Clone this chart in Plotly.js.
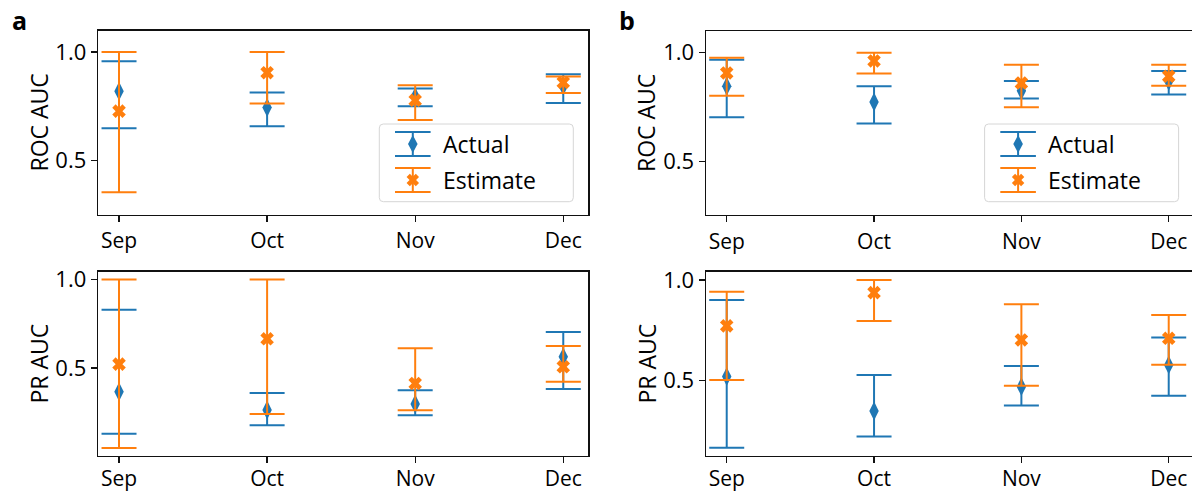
<!DOCTYPE html>
<html><head><meta charset="utf-8">
<script src="https://cdn.plot.ly/plotly-3.0.1.min.js"></script>
<style>html,body{margin:0;padding:0;background:#fff}#chart{width:1192px;height:492px}</style>
</head><body><div id="chart"></div>
<script>
const months = ["Sep", "Oct", "Nov", "Dec"];
const seriesNames = ["Actual", "Estimate"];
// Panel a - ROC AUC
const aRocActual   = [0.820, 0.745, 0.794, 0.843];
const aRocActualLo = [0.649, 0.659, 0.750, 0.766];
const aRocActualHi = [0.957, 0.814, 0.832, 0.898];
const aRocEst      = [0.728, 0.905, 0.778, 0.860];
const aRocEstLo    = [0.355, 0.763, 0.687, 0.812];
const aRocEstHi    = [1.000, 1.000, 0.847, 0.887];
// Panel a - PR AUC
const aPrActual    = [0.366, 0.263, 0.297, 0.563];
const aPrActualLo  = [0.129, 0.177, 0.233, 0.381];
const aPrActualHi  = [0.829, 0.359, 0.374, 0.704];
const aPrEst       = [0.522, 0.665, 0.413, 0.507];
const aPrEstLo     = [0.049, 0.240, 0.261, 0.422];
const aPrEstHi     = [1.000, 1.000, 0.611, 0.624];
// Panel b - ROC AUC
const bRocActual   = [0.846, 0.774, 0.825, 0.869];
const bRocActualLo = [0.704, 0.675, 0.790, 0.808];
const bRocActualHi = [0.968, 0.846, 0.870, 0.916];
const bRocEst      = [0.907, 0.962, 0.861, 0.892];
const bRocEstLo    = [0.802, 0.904, 0.750, 0.848];
const bRocEstHi    = [0.977, 1.000, 0.945, 0.945];
// Panel b - PR AUC
const bPrActual    = [0.520, 0.349, 0.470, 0.578];
const bPrActualLo  = [0.166, 0.222, 0.376, 0.425];
const bPrActualHi  = [0.901, 0.528, 0.573, 0.714];
const bPrEst       = [0.772, 0.937, 0.702, 0.710];
const bPrEstLo     = [0.503, 0.796, 0.474, 0.579];
const bPrEstHi     = [0.942, 1.000, 0.879, 0.826];

const yTickVals = [0.5, 1.0];
const yTickText = ["0.5", "1.0"];

const W = 1192, H = 492;
const BLUE = "#1f77b4", ORANGE = "#ff7f0e";
const FONT = "Open Sans, Noto Sans, sans-serif";
const X = p => p / W;
const Y = p => 1 - p / H;

function trace(y, lo, hi, color, symbol, size, xa, ya, name) {
  return {
    type: "scatter", mode: "markers", x: months, y: y, xaxis: xa, yaxis: ya,
    name: name, showlegend: false, hoverinfo: "skip",
    marker: {symbol: symbol, size: size, color: color, line: {width: 0}},
    error_y: {type: "data", symmetric: false,
      array: hi.map((h, i) => h - y[i]), arrayminus: lo.map((l, i) => y[i] - l),
      color: color, thickness: 2, width: 17.5}
  };
}

const DSIZE = 13.5, XSIZE = 12;
const data = [
  trace(aRocActual, aRocActualLo, aRocActualHi, BLUE, "diamond-tall", DSIZE, "x", "y", seriesNames[0]),
  trace(aRocEst, aRocEstLo, aRocEstHi, ORANGE, "x", XSIZE, "x", "y", seriesNames[1]),
  trace(aPrActual, aPrActualLo, aPrActualHi, BLUE, "diamond-tall", DSIZE, "x2", "y2", seriesNames[0]),
  trace(aPrEst, aPrEstLo, aPrEstHi, ORANGE, "x", XSIZE, "x2", "y2", seriesNames[1]),
  trace(bRocActual, bRocActualLo, bRocActualHi, BLUE, "diamond-tall", DSIZE, "x3", "y3", seriesNames[0]),
  trace(bRocEst, bRocEstLo, bRocEstHi, ORANGE, "x", XSIZE, "x3", "y3", seriesNames[1]),
  trace(bPrActual, bPrActualLo, bPrActualHi, BLUE, "diamond-tall", DSIZE, "x4", "y4", seriesNames[0]),
  trace(bPrEst, bPrEstLo, bPrEstHi, ORANGE, "x", XSIZE, "x4", "y4", seriesNames[1])
];

function xAxis(d0, d1, range, anchor, standoff) {
  return {domain: [X(d0), X(d1)], range: range, anchor: anchor, type: "category",
    showline: true, mirror: true, linecolor: "#111", linewidth: 1.3,
    ticks: "outside", ticklen: 6, tickwidth: 1.3, tickcolor: "#111",
    ticklabelstandoff: standoff,
    showgrid: false, zeroline: false, fixedrange: true,
    tickfont: {family: FONT, size: 21, color: "#000"}};
}
function yAxis(top, bot, range, anchor) {
  return {domain: [Y(bot), Y(top)], range: range, anchor: anchor,
    showline: true, mirror: true, linecolor: "#111", linewidth: 1.3,
    ticks: "outside", ticklen: 6, tickwidth: 1.3, tickcolor: "#111",
    tickvals: yTickVals, ticktext: yTickText,
    showgrid: false, zeroline: false, fixedrange: true,
    tickfont: {family: FONT, size: 22, color: "#000"}};
}

const layout = {
  width: W, height: H, margin: {l: 0, r: 0, t: 0, b: 0},
  paper_bgcolor: "#fff", plot_bgcolor: "#fff", showlegend: false,
  font: {family: FONT, color: "#000"},
  xaxis:  xAxis(98, 588.3, [-0.142, 3.169], "y", 1),
  yaxis:  yAxis(30.5, 214.5, [0.2525, 1.099], "x"),
  xaxis2: xAxis(98, 588.3, [-0.142, 3.169], "y2", -2),
  yaxis2: yAxis(271.5, 455.7, [0.005, 1.045], "x2"),
  xaxis3: xAxis(705.8, 1192, [-0.142, 3.158], "y3", 1),
  yaxis3: yAxis(31, 215, [0.2555, 1.0995], "x3"),
  xaxis4: xAxis(705.8, 1192, [-0.142, 3.158], "y4", -2),
  yaxis4: yAxis(271.7, 455.7, [0.127, 1.041], "x4"),
  shapes: [], annotations: []
};

function ann(text, x, y, opts) {
  return Object.assign({text: text, x: X(x), y: Y(y), xref: "paper", yref: "paper",
    showarrow: false, xanchor: "center", yanchor: "middle",
    font: {family: FONT, size: 23, color: "#000"}}, opts || {});
}
// panel letters and axis titles
layout.annotations.push(ann("<b>a</b>", 19, 20, {font: {family: FONT, size: 25, color: "#000"}}));
layout.annotations.push(ann("<b>b</b>", 627, 20, {font: {family: FONT, size: 25, color: "#000"}}));
layout.annotations.push(ann("ROC AUC", 38, 122.5, {textangle: -90}));
layout.annotations.push(ann("PR AUC", 38, 363.5, {textangle: -90}));
layout.annotations.push(ann("ROC AUC", 646, 123, {textangle: -90}));
layout.annotations.push(ann("PR AUC", 646, 363.5, {textangle: -90}));

function pathFrom(pts) {
  return "M" + pts.map(p => X(p[0]) + "," + Y(p[1])).join("L") + "Z";
}
function legend(Lx, Ly) {
  const w = 194, h = 77.7, r = 4;
  const x0 = Lx, y0 = Ly, x1 = Lx + w, y1 = Ly + h;
  const P = (x, y) => X(x) + "," + Y(y);
  const box = "M" + P(x0 + r, y0) + "L" + P(x1 - r, y0) + "Q" + P(x1, y0) + " " + P(x1, y0 + r) +
    "L" + P(x1, y1 - r) + "Q" + P(x1, y1) + " " + P(x1 - r, y1) + "L" + P(x0 + r, y1) +
    "Q" + P(x0, y1) + " " + P(x0, y1 - r) + "L" + P(x0, y0 + r) + "Q" + P(x0, y0) + " " + P(x0 + r, y0) + "Z";
  layout.shapes.push({type: "path", path: box, xref: "paper", yref: "paper", layer: "above",
    fillcolor: "rgba(255,255,255,0.8)", line: {color: "#d6d6d6", width: 1}});
  const cx = Lx + 33.5;
  const rows = [[Ly + 20, BLUE], [Ly + 56, ORANGE]];
  rows.forEach(([cy, col], k) => {
    const line = (xa, ya, xb, yb) => layout.shapes.push({type: "line", xref: "paper", yref: "paper",
      layer: "above", x0: X(xa), y0: Y(ya), x1: X(xb), y1: Y(yb), line: {color: col, width: 2}});
    line(cx, cy - 12, cx, cy + 12);
    line(cx - 17.8, cy - 12, cx + 17.8, cy - 12);
    line(cx - 17.8, cy + 12, cx + 17.8, cy + 12);
    let pts;
    if (k === 0) {
      pts = [[cx, cy - 9], [cx + 4.8, cy], [cx, cy + 9], [cx - 4.8, cy]];
    } else {
      const L = 6.5, hh = 2.3, c = Math.SQRT1_2;
      const plus = [[hh, L], [hh, hh], [L, hh], [L, -hh], [hh, -hh], [hh, -L], [-hh, -L], [-hh, -hh], [-L, -hh], [-L, hh], [-hh, hh], [-hh, L]];
      pts = plus.map(([u, v]) => [cx + (u - v) * c, cy + (u + v) * c]);
    }
    layout.shapes.push({type: "path", path: pathFrom(pts), xref: "paper", yref: "paper", layer: "above",
      fillcolor: col, line: {width: 0}});
    layout.annotations.push(ann(seriesNames[k], Lx + 61.4, cy, {xanchor: "left"}));
  });
}
legend(379.3, 124);
legend(984.6, 124);

Plotly.newPlot("chart", data, layout, {displayModeBar: false, staticPlot: true});
</script></body></html>
